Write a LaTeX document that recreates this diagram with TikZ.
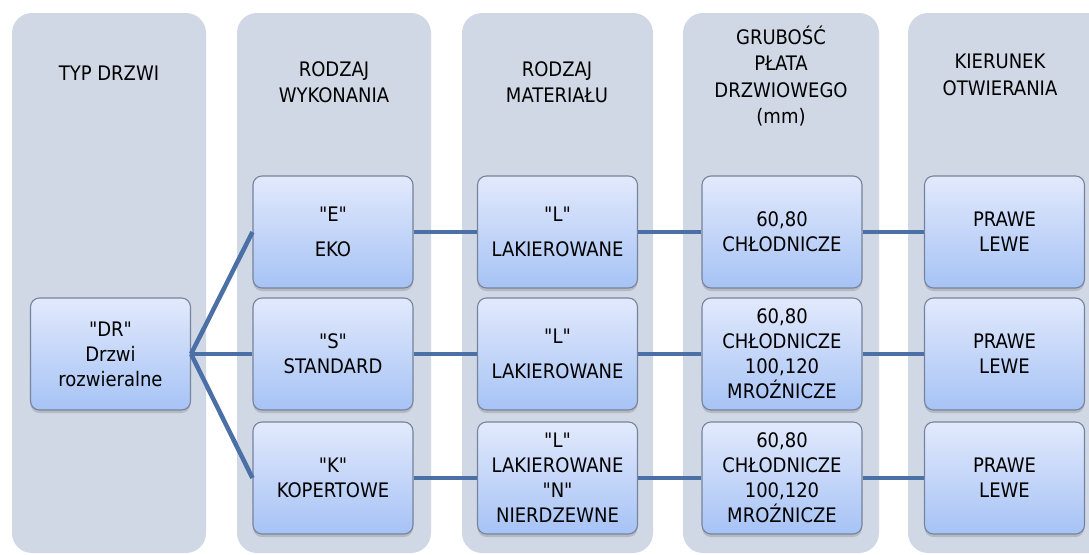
\documentclass[tikz,border=0pt]{standalone}
\usepackage{fontspec}
\newfontfamily\dvfont{DejaVu Sans Condensed}
\usetikzlibrary{shadows}
\definecolor{colbg}{HTML}{D0D8E6}
\definecolor{boxtop}{HTML}{E2E9FC}
\definecolor{boxbot}{HTML}{A6C3F5}
\definecolor{boxline}{HTML}{76839C}
\definecolor{conn}{HTML}{4A70A6}
\tikzset{
  colstrip/.style={fill=colbg, rounded corners=20pt, draw=none},
  itembox/.style={rectangle, rounded corners=9pt, draw=boxline, line width=1.1pt,
    top color=boxtop, bottom color=boxbot, minimum width=160pt, minimum height=112pt,
    inner sep=0pt, align=center, font=\dvfont\fontsize{20}{25}\selectfont,
    drop shadow={shadow xshift=0pt, shadow yshift=-3pt, opacity=0.35}},
  header/.style={align=center, font=\dvfont\fontsize{20}{26.5}\selectfont, inner sep=0pt},
  link/.style={draw=conn, line width=4.5pt}
}
\begin{document}
\begin{tikzpicture}[x=1pt,y=-1pt]
\useasboundingbox (0,0) rectangle (1089,554);
\clip (0,0) rectangle (1089,554);
% columns
\fill[colstrip] (12,13) rectangle (206,553);
\fill[colstrip] (237,13) rectangle (431,553);
\fill[colstrip] (462,13) rectangle (653,553);
\fill[colstrip] (683,13) rectangle (879,553);
\fill[colstrip] (908,13) rectangle (1120,553);
% headers
\node[header] (h1) at (109,73) {TYP DRZWI};
\node[header] (h2) at (334,82) {RODZAJ\\WYKONANIA};
\node[header] (h3) at (557,82) {RODZAJ\\MATERIAŁU};
\node[header] (h4) at (781,76) {GRUBOŚĆ\\PŁATA\\DRZWIOWEGO\\(mm)};
\node[header] (h5) at (1000,75) {KIERUNEK\\OTWIERANIA};
% boxes
\node[itembox] (dr) at (110.5,354) {"DR"\\Drzwi\\rozwieralne};
\node[itembox] (e) at (333,232) {"E"\\[10pt]EKO};
\node[itembox] (s) at (333,354) {"S"\\STANDARD};
\node[itembox] (k) at (333,478) {"K"\\KOPERTOWE};
\node[itembox] (l1) at (557.5,232) {"L"\\[10pt]LAKIEROWANE};
\node[itembox] (l2) at (557.5,354) {"L"\\[10pt]LAKIEROWANE};
\node[itembox] (l3) at (557.5,478) {"L"\\LAKIEROWANE\\"N"\\NIERDZEWNE};
\node[itembox] (g1) at (782,232) {60,80\\CHŁODNICZE};
\node[itembox] (g2) at (782,354) {60,80\\CHŁODNICZE\\100,120\\MROŹNICZE};
\node[itembox] (g3) at (782,478) {60,80\\CHŁODNICZE\\100,120\\MROŹNICZE};
\node[itembox] (p1) at (1004.5,232) {PRAWE\\LEWE};
\node[itembox] (p2) at (1004.5,354) {PRAWE\\LEWE};
\node[itembox] (p3) at (1004.5,478) {PRAWE\\LEWE};
% connectors
\draw[link] (dr.east) -- (e.west);
\draw[link] (dr.east) -- (s.west);
\draw[link] (dr.east) -- (k.west);
\draw[link] (e.east) -- (l1.west);
\draw[link] (s.east) -- (l2.west);
\draw[link] (k.east) -- (l3.west);
\draw[link] (l1.east) -- (g1.west);
\draw[link] (l2.east) -- (g2.west);
\draw[link] (l3.east) -- (g3.west);
\draw[link] (g1.east) -- (p1.west);
\draw[link] (g2.east) -- (p2.west);
\draw[link] (g3.east) -- (p3.west);
\end{tikzpicture}
\end{document}
